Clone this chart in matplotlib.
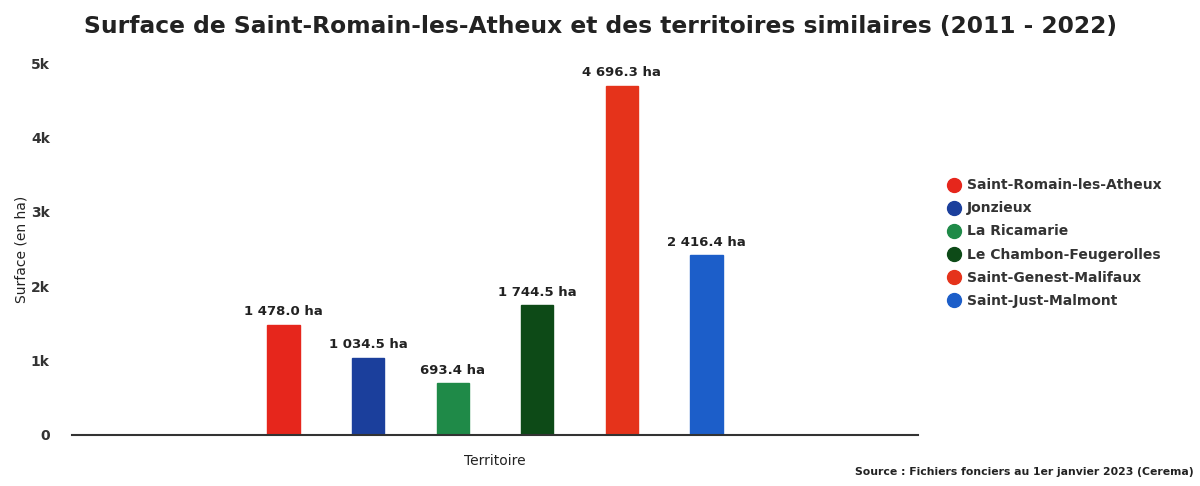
import numpy as np
import matplotlib.pyplot as plt
from matplotlib.lines import Line2D

# territories and their surface (ha)
territoires = ["Saint-Romain-les-Atheux", "Jonzieux", "La Ricamarie",
               "Le Chambon-Feugerolles", "Saint-Genest-Malifaux", "Saint-Just-Malmont"]
surfaces = [1478.0, 1034.5, 693.4, 1744.5, 4696.3, 2416.4]
couleurs = ["#e6261c", "#1b3f9c", "#1f8a48", "#0d4a17", "#e5331b", "#1c5ec9"]
yticks = [0, 1000, 2000, 3000, 4000, 5000]
ytick_labels = ["0", "1k", "2k", "3k", "4k", "5k"]

def fmt(v):
    return "{:,.1f}".format(v).replace(",", " ") + " ha"

fig = plt.figure(figsize=(12, 4.86), dpi=100)
fig.patch.set_facecolor('w')
ax = fig.add_axes([0.06, 0.105, 0.705, 0.765])

n = len(surfaces)
offsets = np.arange(n) - (n - 1) / 2
for off, val, col, nom in zip(offsets, surfaces, couleurs, territoires):
    ax.bar(off, val, width=0.38, color=col, edgecolor=col, zorder=2)
    ax.text(off, val + 90, fmt(val), ha='center', va='bottom',
            fontsize=9.5, fontweight='heavy', color='#222222')

ax.set_xlim(-5, 5)
ax.set_ylim(0, 5000)
ax.set_yticks(yticks)
ax.set_yticklabels(ytick_labels, fontsize=10, fontweight='bold', color='#333333')
ax.set_xticks([])
for s in ['top', 'right', 'left']:
    ax.spines[s].set_visible(False)
ax.spines['bottom'].set_color('#333333')
ax.spines['bottom'].set_linewidth(1.5)
ax.tick_params(axis='y', length=0, pad=16)

ax.set_ylabel("Surface (en ha)", fontsize=10, color='#222222', labelpad=2)
ax.set_xlabel("Territoire", fontsize=10, color='#222222', labelpad=14)

fig.text(0.5, 0.945, "Surface de Saint-Romain-les-Atheux et des territoires similaires (2011 - 2022)",
         ha='center', va='center', fontsize=16.8, fontweight='heavy', color='#222222')

handles = [Line2D([0], [0], marker='o', linestyle='', markersize=10,
                  markerfacecolor=c, markeredgecolor=c) for c in couleurs]
fig.legend(handles, territoires, loc='center left', bbox_to_anchor=(0.778, 0.5),
           frameon=False, prop={'size': 10, 'weight': 'bold'}, handletextpad=0.3,
           labelspacing=0.65, handlelength=1.2, labelcolor='#333333')

fig.text(0.995, 0.018, "Source : Fichiers fonciers au 1er janvier 2023 (Cerema)",
         ha='right', va='bottom', fontsize=7.8, fontweight='bold', color='#222222')

fig.savefig("out.png", dpi=100)
